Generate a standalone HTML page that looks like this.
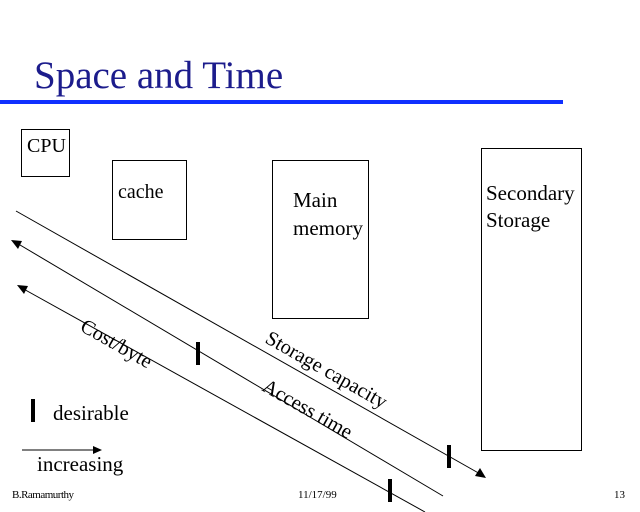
<!DOCTYPE html>
<html><head><style>
body{margin:0;width:640px;height:512px;background:#fff;position:relative;overflow:hidden;font-family:"Liberation Serif",serif;}
.t{position:absolute;white-space:nowrap;color:#000;}
.b{position:absolute;border:1px solid #000;box-sizing:border-box;}
</style></head><body>
<div class="t" style="left:34px;top:53px;font-size:39px;color:#1c1c8c;">Space and Time</div>
<div style="position:absolute;left:0;top:100px;width:563px;height:4px;background:#1030ff;"></div>
<div class="b" style="left:21px;top:129px;width:49px;height:48px;"></div>
<div class="t" style="left:27px;top:135px;font-size:20px;">CPU</div>
<div class="b" style="left:112px;top:160px;width:75px;height:80px;"></div>
<div class="t" style="left:118px;top:181px;font-size:20px;">cache</div>
<div class="b" style="left:272px;top:160px;width:97px;height:159px;"></div>
<div class="t" style="left:293px;top:186px;font-size:21px;line-height:28px;">Main<br>memory</div>
<div class="b" style="left:481px;top:148px;width:101px;height:303px;"></div>
<div class="t" style="left:486px;top:180px;font-size:21px;line-height:27px;">Secondary<br>Storage</div>
<svg width="640" height="512" style="position:absolute;left:0;top:0;">
<g stroke="#000" stroke-width="1">
<line x1="16" y1="211" x2="482" y2="475"/>
<line x1="15" y1="242" x2="443" y2="496"/>
<line x1="20" y1="287" x2="425" y2="512"/>
<line x1="22" y1="450" x2="96" y2="450"/>
</g>
<polygon points="486,478 475,476 480,468" fill="#000"/>
<polygon points="11,240 22,241 18,249" fill="#000"/>
<polygon points="17,285 28,286 24,294" fill="#000"/>
<polygon points="102,450 93,446 93,454" fill="#000"/>
<g fill="#000">
<rect x="196" y="342" width="4" height="23"/>
<rect x="447" y="445" width="4" height="23"/>
<rect x="388" y="479" width="4" height="23"/>
<rect x="31" y="399" width="4" height="23"/>
</g>
<g font-family="Liberation Serif,serif" font-size="20.5" fill="#000">
<text x="79" y="330" transform="rotate(29.5 79 330)">Cost/byte</text>
<text x="264" y="342" transform="rotate(29.5 264 342)">Storage capacity</text>
<text x="261" y="390" transform="rotate(29.5 261 390)">Access time</text>
</g>
</svg>
<div class="t" style="left:53px;top:401px;font-size:21px;">desirable</div>
<div class="t" style="left:37px;top:452px;font-size:21px;">increasing</div>
<div class="t" style="left:12px;top:489px;font-size:11px;letter-spacing:-0.5px;">B.Ramamurthy</div>
<div class="t" style="left:298px;top:489px;font-size:11px;">11/17/99</div>
<div class="t" style="left:614px;top:489px;font-size:11px;">13</div>
</body></html>
